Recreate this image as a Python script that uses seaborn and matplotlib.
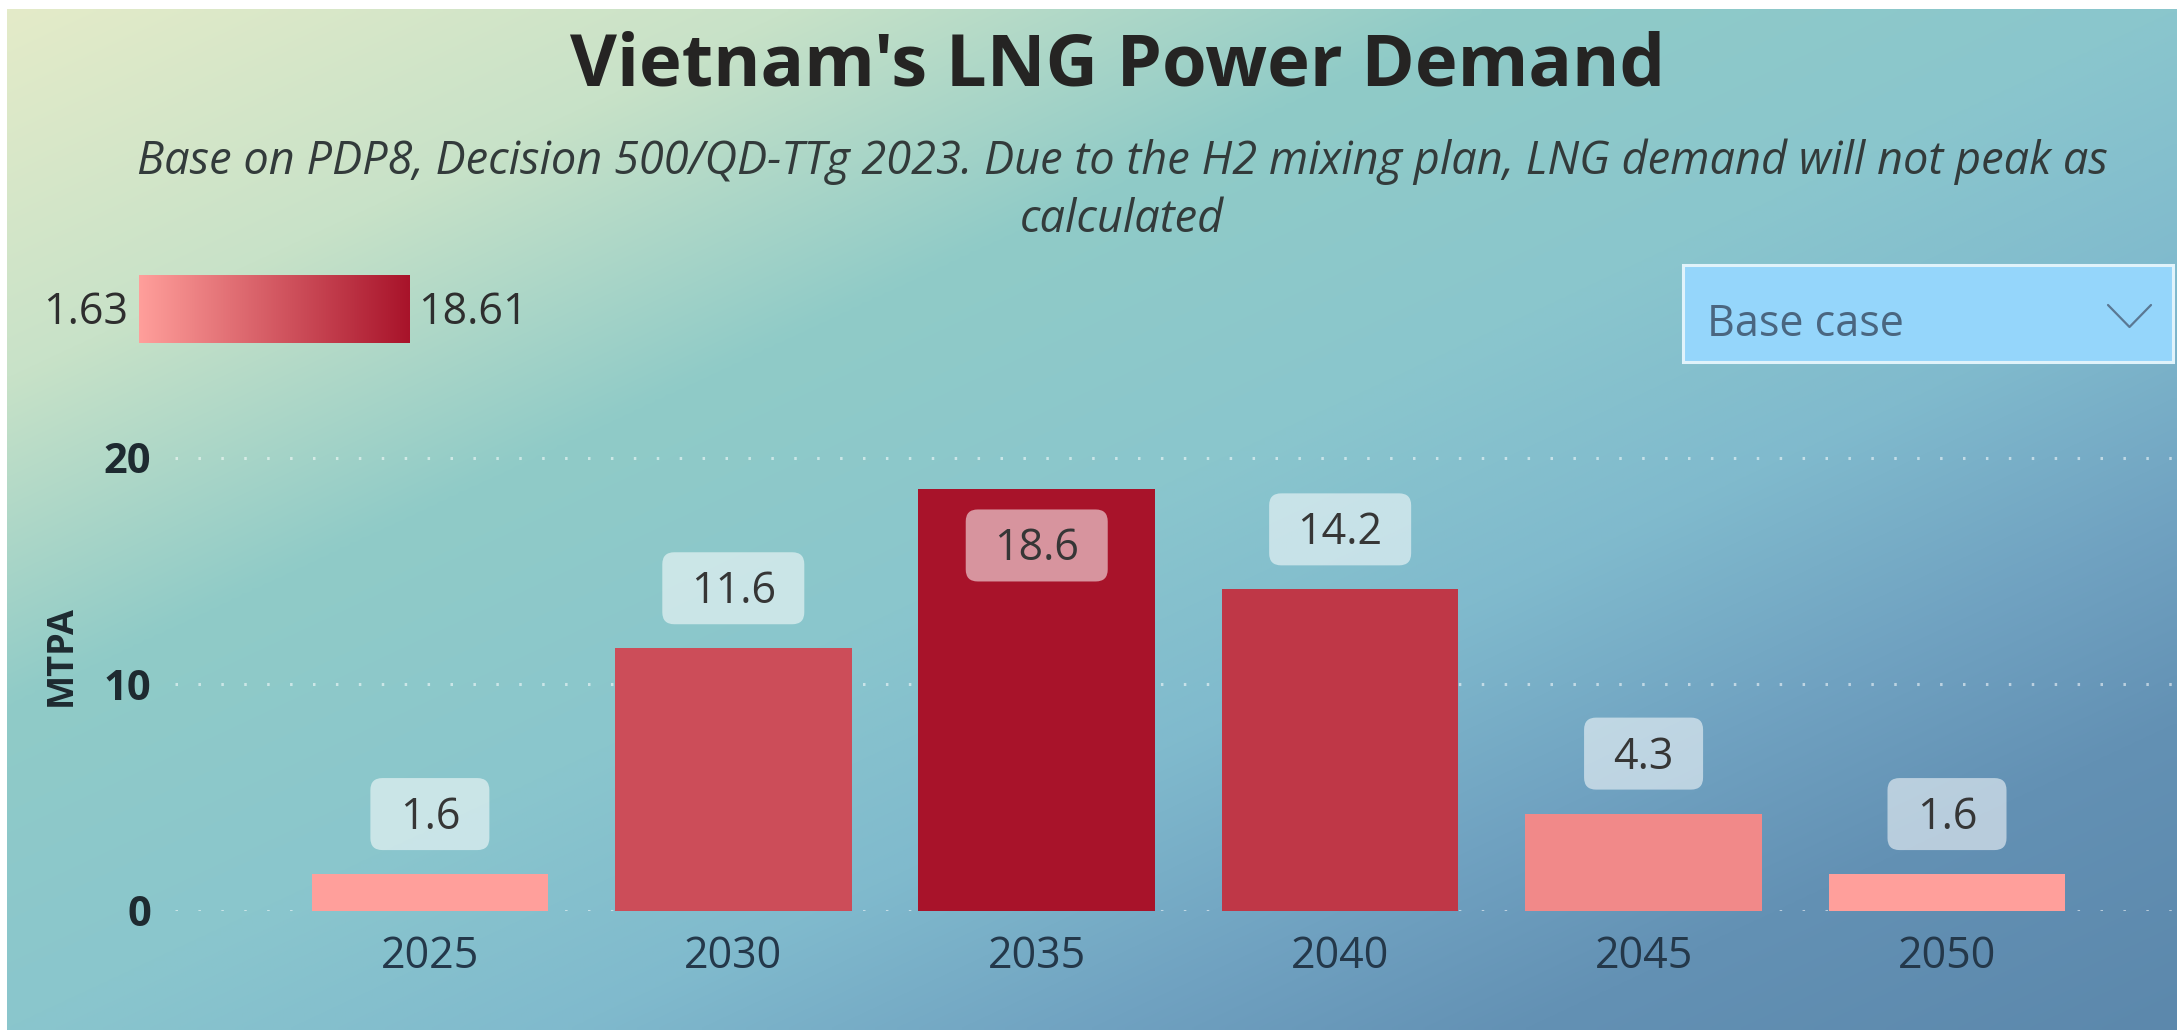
import numpy as np
import pandas as pd
import matplotlib
matplotlib.use("Agg")
import matplotlib.pyplot as plt
import seaborn as sns
from matplotlib.colors import LinearSegmentedColormap, Normalize, to_rgb
from matplotlib.patches import FancyBboxPatch, Rectangle
from matplotlib.lines import Line2D

# ---------------- data ----------------
years = ["2025", "2030", "2035", "2040", "2045", "2050"]
demand = [1.63, 11.6, 18.61, 14.2, 4.3, 1.63]
label_text = ["1.6", "11.6", "18.6", "14.2", "4.3", "1.6"]
yticks = [0, 10, 20]
scale_min_label = "1.63"
scale_max_label = "18.61"
title = "Vietnam's LNG Power Demand"
subtitle_lines = ["Base on PDP8, Decision 500/QD-TTg 2023. Due to the H2 mixing plan, LNG demand will not peak as",
                  "calculated"]
slicer_text = "Base case"
y_label = "MTPA"

# ---------------- setup ----------------
W, H = 2177, 1030
sns.set_theme(style="white")
plt.rcParams['font.family'] = ['Open Sans', 'DejaVu Sans']
plt.rcParams['lines.scale_dashes'] = False

fig = plt.figure(figsize=(W / 100, H / 100), dpi=100)
fig.patch.set_facecolor('white')

# background gradient (diagonal, top-left -> bottom-right)
bg = fig.add_axes([7 / W, 0, 1 - 7 / W, 1 - 9 / H])
bg.set_axis_off()
ny, nx = 200, 420
yy, xx = np.mgrid[0:1:ny * 1j, 0:1:nx * 1j]
t = (xx + yy) / 2
stops = [0, .18, .34, .5, .63, .75, .85, 1]
cols = ["#E4EBC9", "#C8E2C8", "#90CBC7", "#8AC6CD", "#80BACD", "#70A2C1", "#6391B4", "#5C88AC"]
rgb = np.array([to_rgb(c) for c in cols])
img = np.stack([np.interp(t, stops, rgb[:, k]) for k in range(3)], axis=-1)
bg.imshow(img, aspect='auto', interpolation='bilinear')

# main axes
ax = fig.add_axes([175 / W, 119 / H, (W - 175) / W, 511 / H])
ax.patch.set_alpha(0)
cmap = LinearSegmentedColormap.from_list("lng", ["#FF9F9B", "#A8132A"])
norm = Normalize(min(demand), max(demand))
palette = {y: cmap(norm(v)) for y, v in zip(years, demand)}
df = pd.DataFrame({"year": years, "demand": demand})
sns.barplot(data=df, x="year", y="demand", hue="year", palette=palette,
            width=0.78, legend=False, ax=ax, saturation=1, zorder=3, linewidth=0)

ax.set_xlim(-0.84, 5.758)
ax.set_ylim(0, 22.56)
for yv in yticks:
    ax.axhline(yv, color='white', alpha=0.55, lw=2.2, dashes=(1.8, 14.7), zorder=1)

ax.set_yticks(yticks)
ax.set_yticklabels([str(t) for t in yticks], fontsize=30, fontweight='bold', color='#1E2A30')
ax.tick_params(axis='y', length=0, pad=17)
ax.tick_params(axis='x', length=0, pad=17, labelsize=31, labelcolor='#24384A')
ax.set_xlabel("")
ax.set_ylabel("")
sns.despine(ax=ax, left=True, bottom=True)

# data labels
top_px = ax.transAxes.transform((0, 1))[1]
bars = sorted(ax.patches, key=lambda p: p.get_x())
for bar, txt in zip(bars, label_text):
    xc = bar.get_x() + bar.get_width() / 2
    px, py = ax.transData.transform((xc, bar.get_height()))
    w, h = 50 + 23 * len(txt), 72
    if py + 24 + h > top_px:
        y0 = py - 20 - h
    else:
        y0 = py + 24
    box = FancyBboxPatch(((px - w / 2) / W, y0 / H), w / W, h / H,
                         boxstyle="round,pad=0,rounding_size=0.0055",
                         transform=fig.transFigure, fc='white', ec='none', alpha=0.55,
                         mutation_aspect=W / H, zorder=5)
    fig.add_artist(box)
    fig.text(px / W, (y0 + h / 2 - 15) / H, txt, ha='center', va='baseline',
             fontsize=31, color='#363636', zorder=6)

# colour scale legend
lg = fig.add_axes([139 / W, (H - 343) / H, (410 - 139) / W, 68 / H])
lg.imshow(np.linspace(0, 1, 256).reshape(1, -1), cmap=cmap, aspect='auto')
lg.set_axis_off()
fig.text(128 / W, 1 - 324 / H, scale_min_label, ha='right', va='baseline', fontsize=31, color='#2E2E2E')
fig.text(418 / W, 1 - 324 / H, scale_max_label, ha='left', va='baseline', fontsize=31, color='#2E2E2E')

# slicer
fig.add_artist(Rectangle((1683 / W, 1 - 362 / H), 490 / W, 97 / H, transform=fig.transFigure,
                         fc='#95D6FB', ec='#E0F3FB', lw=2.2))
fig.text(1707 / W, 1 - 336 / H, slicer_text, ha='left', va='baseline', fontsize=31, color='#4A6680')
fig.add_artist(Line2D([2108 / W, 2129.5 / W, 2151 / W], [1 - 305 / H, 1 - 327 / H, 1 - 305 / H],
                      transform=fig.transFigure, lw=1.6, color='#5A7893'))

# titles
fig.text(1118 / W, 1 - 85 / H, title, ha='center', va='baseline', fontsize=52,
         fontweight='bold', color='#252423')
fig.text(1122 / W, 1 - 174 / H, subtitle_lines[0], ha='center', va='baseline', fontsize=32.5,
         style='italic', color='#333B3B')
fig.text(1122 / W, 1 - 232 / H, subtitle_lines[1], ha='center', va='baseline', fontsize=32.5,
         style='italic', color='#333B3B')

fig.text(62 / W, 1 - 656 / H, y_label, rotation=90, ha='center', va='center', fontsize=26,
         fontweight='bold', color='#1E2A30')

fig.savefig('out.png', dpi=100)
